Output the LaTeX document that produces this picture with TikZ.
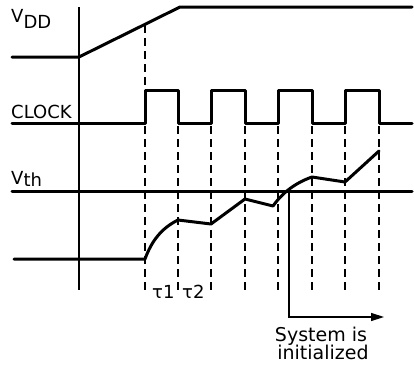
\documentclass[tikz,border=0pt]{standalone}
\usepackage{fontspec}
\setmainfont{DejaVu Sans}
\usetikzlibrary{arrows.meta}
\begin{document}
\begin{tikzpicture}[x=1pt,y=-1pt,
  wave/.style={line width=3pt,line join=round,line cap=round},
  thin/.style={line width=1.4pt},
  guide/.style={line width=1.3pt,dash pattern=on 8pt off 5pt},
  lbl/.style={font=\fontsize{18}{18}\selectfont,inner sep=0pt,anchor=base west}]
\useasboundingbox (0,0) rectangle (414,364);
% vertical reference line
\draw[thin] (79,7) -- (79,290);
% VDD
\draw[wave] (12,57) -- (79,57) -- (180,7) -- (412,7);
% clock
\draw[wave] (12,123) -- (145,123) -- (145,90) -- (178,90) -- (178,123)
  -- (211,123) -- (211,90) -- (245,90) -- (245,123)
  -- (278,123) -- (278,90) -- (312,90) -- (312,123)
  -- (345,123) -- (345,90) -- (379,90) -- (379,123) -- (412,123);
% Vth
\draw[wave] (12,191) -- (412,191);
% dashed guides
\draw[guide] (145,25) -- (145,90);
\foreach \x in {145,178,211,245,278,312,345,379}
  \draw[guide] (\x,126) -- (\x,290);
% charging curve
\draw[wave] (14,259) -- (145,259) .. controls (152,240) and (162,228) .. (178,220)
  -- (211,224) -- (245,199) -- (273,206) .. controls (280,196) and (292,184) .. (312,177)
  -- (345,182) -- (379,151);
% arrow
\coordinate (cross) at (289,191);
\coordinate (corner) at (289,317);
\coordinate (tip) at (384,317);
\draw[thin,-{Triangle[length=13pt,width=8pt]}] (cross) -- (corner) -- (tip);
% labels
\node[lbl] (vdd) at (11,22) {V\raisebox{-0.7ex}{DD}};
\node[lbl] (clk) at (11,118) {CLOCK};
\node[lbl] (vth) at (11,184) {V\raisebox{-0.25ex}{th}};
\node[lbl] (t1) at (152,298) {τ1};
\node[lbl] (t2) at (182,298) {τ2};
\node[lbl,font=\fontsize{19}{19}\selectfont,anchor=base] (sys1) at (321,341) {System is};
\node[lbl,font=\fontsize{19}{19}\selectfont,anchor=base] (sys2) at (323,359) {initialized};
\end{tikzpicture}
\end{document}
